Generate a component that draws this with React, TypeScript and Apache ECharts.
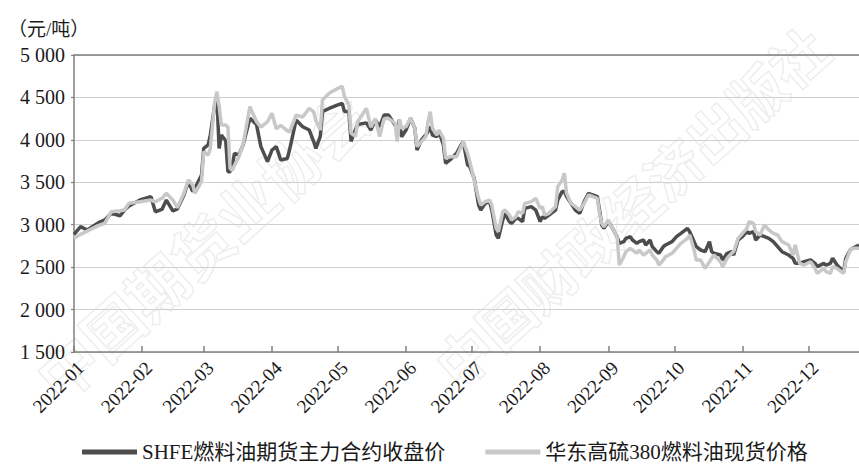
import React, { useEffect, useRef } from "react";
import * as echarts from "echarts";

const dates = [
  "2022-01-01","2022-01-04","2022-01-07","2022-01-12","2022-01-15","2022-01-18","2022-01-22","2022-01-24","2022-01-26","2022-01-31",
  "2022-02-05","2022-02-07","2022-02-10","2022-02-12","2022-02-15","2022-02-17","2022-02-20","2022-02-22","2022-02-24","2022-02-25","2022-02-28",
  "2022-03-01","2022-03-03","2022-03-04","2022-03-06","2022-03-07","2022-03-08","2022-03-09","2022-03-11","2022-03-12","2022-03-13","2022-03-14","2022-03-15","2022-03-17","2022-03-19","2022-03-22","2022-03-25","2022-03-27","2022-03-30",
  "2022-04-01","2022-04-03","2022-04-05","2022-04-08","2022-04-09","2022-04-12","2022-04-15","2022-04-18","2022-04-20","2022-04-21","2022-04-23","2022-04-24","2022-04-27",
  "2022-05-01","2022-05-03","2022-05-04","2022-05-06","2022-05-07","2022-05-09","2022-05-10","2022-05-14","2022-05-16","2022-05-18","2022-05-20","2022-05-22","2022-05-24","2022-05-26","2022-05-27","2022-05-28","2022-05-29","2022-05-30",
  "2022-06-01","2022-06-03","2022-06-05","2022-06-06","2022-06-08","2022-06-10","2022-06-11","2022-06-12","2022-06-13","2022-06-15","2022-06-16","2022-06-18","2022-06-19","2022-06-21","2022-06-24","2022-06-26","2022-06-27","2022-06-29","2022-06-30",
  "2022-07-02","2022-07-04","2022-07-05","2022-07-07","2022-07-09","2022-07-10","2022-07-12","2022-07-13","2022-07-15","2022-07-16","2022-07-18","2022-07-19","2022-07-21","2022-07-22","2022-07-24","2022-07-25","2022-07-28","2022-07-30",
  "2022-08-01","2022-08-02","2022-08-03","2022-08-05","2022-08-08","2022-08-09","2022-08-11","2022-08-12","2022-08-13","2022-08-15","2022-08-17","2022-08-19","2022-08-21","2022-08-23","2022-08-25","2022-08-27","2022-08-28","2022-08-29","2022-08-30",
  "2022-09-01","2022-09-02","2022-09-05","2022-09-06","2022-09-08","2022-09-09","2022-09-11","2022-09-12","2022-09-14","2022-09-15","2022-09-17","2022-09-18","2022-09-20","2022-09-21","2022-09-23","2022-09-24","2022-09-26","2022-09-27","2022-09-30",
  "2022-10-02","2022-10-04","2022-10-07","2022-10-08","2022-10-10","2022-10-11","2022-10-13","2022-10-15","2022-10-17","2022-10-18","2022-10-19","2022-10-22","2022-10-23","2022-10-25","2022-10-27","2022-10-28","2022-10-30",
  "2022-11-01","2022-11-03","2022-11-04","2022-11-06","2022-11-07","2022-11-09","2022-11-11","2022-11-13","2022-11-15","2022-11-17","2022-11-19","2022-11-22","2022-11-24","2022-11-25","2022-11-27","2022-11-29",
  "2022-12-02","2022-12-04","2022-12-05","2022-12-08","2022-12-09","2022-12-11","2022-12-12","2022-12-14","2022-12-17","2022-12-18","2022-12-20","2022-12-21","2022-12-24",
];

const shfeClose = [
  2887, 2977, 2938, 3021, 3056, 3135, 3106, 3173, 3220, 3291,
  3330, 3153, 3180, 3290, 3162, 3185, 3350, 3510, 3390, 3430, 3586,
  3900, 3940, 4057, 4411, 4490, 3900, 4057, 3990, 3625, 3625, 3700, 3842, 3820, 3950, 4254, 4180, 3920, 3743,
  3880, 3920, 3763, 3780, 3880, 4234, 4155, 4116, 3980, 3900, 4040, 4332, 4370,
  4411, 4430, 4333, 4333, 3983, 4120, 4180, 4200, 4116, 4234, 4155, 4293, 4293, 4214, 4175, 4136, 4234, 4037,
  4116, 4254, 4136, 3881, 3998, 4057, 4097, 4155, 4057, 4037, 4097, 3940, 3724, 3763, 3841, 3940, 3979, 3704, 3684,
  3547, 3232, 3173, 3252, 3272, 3173, 2879, 2840, 3056, 3134, 3036, 3016, 3075, 3075, 3036, 3193, 3213, 3173,
  3036, 3095, 3075, 3114, 3173, 3291, 3390, 3390, 3331, 3252, 3173, 3134, 3272, 3370, 3350, 3331, 3173, 2997, 2957,
  3036, 2997, 2859, 2781, 2800, 2839, 2859, 2820, 2781, 2800, 2820, 2761, 2820, 2741, 2682, 2663, 2741, 2761, 2800,
  2859, 2898, 2957, 2918, 2800, 2741, 2702, 2682, 2800, 2682, 2663, 2643, 2584, 2663, 2682, 2643, 2820,
  2859, 2918, 2898, 2918, 2820, 2879, 2859, 2839, 2800, 2741, 2682, 2643, 2604, 2545, 2545, 2564,
  2584, 2545, 2506, 2545, 2525, 2545, 2604, 2525, 2447, 2604, 2702, 2722, 2761,
];

const spotPrice = [
  2840, 2887, 2925, 2990, 3017, 3153, 3165, 3173, 3252, 3271,
  3290, 3270, 3311, 3370, 3290, 3201, 3370, 3527, 3468, 3370, 3510,
  3860, 3820, 3900, 4450, 4568, 4400, 4175, 4175, 4150, 3665, 3640, 3700, 3800, 3960, 4391, 4214, 4150, 4214,
  4313, 4130, 4170, 4110, 4090, 4290, 4270, 4372, 4330, 4230, 4116, 4470, 4550,
  4607, 4630, 4510, 4410, 4080, 4040, 4214, 4372, 4150, 4250, 4040, 4250, 4254, 4214, 4195, 3979, 4234, 4136,
  4155, 4254, 4136, 3920, 3979, 4037, 4214, 4332, 4136, 4057, 4116, 4018, 3783, 3802, 3802, 3920, 3979, 3841, 3743,
  3527, 3311, 3232, 3272, 3291, 3232, 2957, 2918, 3154, 3173, 3114, 3056, 3095, 3154, 3134, 3252, 3272, 3311,
  3193, 3213, 3114, 3134, 3213, 3449, 3527, 3606, 3370, 3252, 3213, 3173, 3252, 3350, 3331, 3311, 3134, 3016, 2977,
  3055, 2997, 2859, 2525, 2623, 2682, 2722, 2702, 2663, 2702, 2643, 2663, 2702, 2643, 2584, 2525, 2584, 2623, 2663,
  2722, 2781, 2839, 2878, 2702, 2584, 2584, 2486, 2564, 2604, 2643, 2564, 2506, 2604, 2663, 2682, 2839,
  2898, 2957, 3036, 3016, 2918, 2879, 2997, 2938, 2898, 2879, 2800, 2761, 2643, 2761, 2545, 2525,
  2564, 2486, 2427, 2486, 2447, 2427, 2506, 2486, 2427, 2564, 2702, 2722, 2722,
];

const seriesNames = ["SHFE燃料油期货主力合约收盘价", "华东高硫380燃料油现货价格"];
const unitLabel = "（元/吨）";
const xMin = "2022-01-01";
const xMax = "2022-12-24";
const yMin = 1500;
const yMax = 5000;
const yStep = 500;
const watermarks = ["中国期货业协会", "中国财政经济出版社"];

const FONT = "'Liberation Serif', 'Noto Sans CJK SC', serif";
const AXIS = "#808080";
const TEXT = "#1a1a1a";

function fmtThousands(v: number): string {
  const s = String(Math.round(v));
  return s.replace(/\B(?=(\d{3})+(?!\d))/g, " ");
}

export default function App() {
  const ref = useRef<HTMLDivElement>(null);
  useEffect(() => {
    if (!ref.current) return;
    const chart = echarts.init(ref.current, null, { renderer: "svg" });
    const DAY = 86400000;
    const wmStyle = {
      fontWeight: "bold",
      fontFamily: "'Noto Sans CJK SC'",
      align: "center",
      verticalAlign: "middle",
      fill: "rgba(255,255,255,0)",
      stroke: "#eeeeee",
      lineWidth: 1.5,
    };
    chart.setOption({
      animation: false,
      backgroundColor: "#ffffff",
      graphic: [
        {
          type: "text",
          x: 200,
          y: 245,
          rotation: 0.73,
          silent: true,
          z: -10,
          style: { ...wmStyle, text: watermarks[0], fontSize: 60 },
        },
        {
          type: "text",
          x: 630,
          y: 205,
          rotation: 0.73,
          silent: true,
          z: -10,
          style: { ...wmStyle, text: watermarks[1], fontSize: 56 },
        },
        {
          type: "text",
          left: 8,
          top: 20,
          style: {
            text: unitLabel,
            fontSize: 19,
            fontFamily: FONT,
            fill: TEXT,
          },
        },
      ],
      grid: {
        left: 74,
        right: 0,
        top: 55,
        bottom: 112,
        containLabel: false,
        outerBoundsMode: "none",
      },
      legend: {
        left: 82,
        top: 441,
        padding: 0,
        icon: "rect",
        itemWidth: 55,
        itemHeight: 5,
        itemGap: 40,
        textStyle: { fontSize: 21, lineHeight: 22, fontFamily: FONT, color: TEXT },
        data: seriesNames,
      },
      xAxis: [
        {
          type: "time",
          min: xMin,
          max: xMax,
          splitNumber: 12,
          minInterval: 28 * DAY,
          maxInterval: 31 * DAY,
          axisLine: { show: true, lineStyle: { color: AXIS, width: 1.5 } },
          axisTick: { show: true, inside: true, length: 6, lineStyle: { color: AXIS, width: 1.5 } },
          axisLabel: {
            rotate: 45,
            formatter: "{yyyy}-{MM}",
            fontSize: 19,
            fontFamily: FONT,
            color: TEXT,
            margin: 6,
            align: "right",
            verticalAlign: "top",
            hideOverlap: false,
            showMaxLabel: false,
          },
          splitLine: { show: false },
          minorTick: { show: false },
        },
        {
          type: "value",
          position: "top",
          axisLine: { show: true, lineStyle: { color: AXIS, width: 1.5 } },
          axisTick: { show: false },
          axisLabel: { show: false },
          splitLine: { show: false },
        },
      ],
      yAxis: {
        type: "value",
        min: yMin,
        max: yMax,
        interval: yStep,
        axisLine: { show: true, lineStyle: { color: AXIS, width: 1.5 } },
        axisTick: { show: true, length: 3, lineStyle: { color: AXIS, width: 1.2 } },
        axisLabel: {
          formatter: (v: number) => fmtThousands(v),
          fontSize: 20,
          fontFamily: FONT,
          color: TEXT,
          margin: 9,
        },
        splitLine: { show: true, lineStyle: { color: "#d0d0d0", width: 1.2 } },
      },
      series: [
        {
          name: seriesNames[0],
          type: "line",
          xAxisIndex: 0,
          symbol: "none",
          color: "#4d4d4d",
          lineStyle: { width: 3.5, color: "#4d4d4d" },
          data: dates.map((d, i) => [d, shfeClose[i]]),
        },
        {
          name: seriesNames[1],
          type: "line",
          xAxisIndex: 0,
          symbol: "none",
          color: "#c8c8c8",
          lineStyle: { width: 3.5, color: "#c8c8c8" },
          data: dates.map((d, i) => [d, spotPrice[i]]),
        },
      ],
    });
    return () => chart.dispose();
  }, []);
  return (
    <div
      ref={ref}
      style={{ position: "fixed", left: 0, top: 0, width: 859, height: 464, background: "#fff" }}
    />
  );
}
